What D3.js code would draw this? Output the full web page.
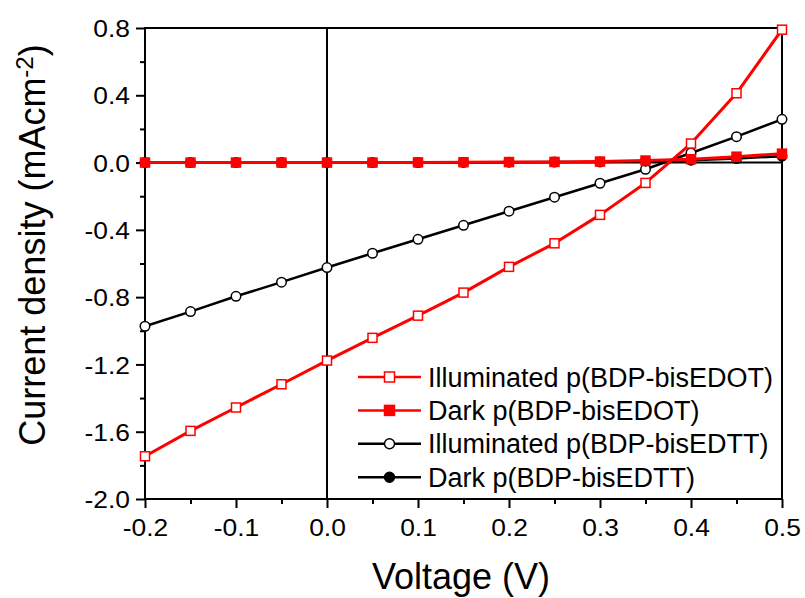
<!DOCTYPE html>
<html>
<head>
<meta charset="utf-8">
<script src="https://cdn.jsdelivr.net/npm/d3@7"></script>
<style>
  html, body { margin: 0; padding: 0; background: #fff; }
  svg { display: block; }
  text { font-family: "Liberation Sans", Arial, sans-serif; fill: #000; }
</style>
</head>
<body>
<svg id="chart" width="805" height="598"></svg>
<script>
// ---- data ----
const voltage = [-0.2, -0.15, -0.1, -0.05, 0.0, 0.05, 0.1, 0.15, 0.2, 0.25, 0.3, 0.35, 0.4, 0.45, 0.5];
const illumEDOT = [-1.746, -1.595, -1.456, -1.318, -1.177, -1.042, -0.910, -0.773, -0.620, -0.480, -0.311, -0.121, 0.113, 0.412, 0.790];
const darkEDOT  = [0.000, 0.000, 0.000, 0.000, 0.000, 0.000, 0.001, 0.002, 0.003, 0.004, 0.006, 0.012, 0.020, 0.035, 0.053];
const illumEDTT = [-0.973, -0.886, -0.795, -0.711, -0.624, -0.539, -0.456, -0.373, -0.289, -0.206, -0.123, -0.040, 0.057, 0.154, 0.257];
const darkEDTT  = [0.000, 0.000, 0.000, 0.000, 0.000, 0.000, 0.000, 0.001, 0.002, 0.003, 0.004, 0.008, 0.014, 0.024, 0.038];
const xTicks = [-0.2, -0.1, 0.0, 0.1, 0.2, 0.3, 0.4, 0.5];
const yTicks = [0.8, 0.4, 0.0, -0.4, -0.8, -1.2, -1.6, -2.0];
const seriesNames = ["Illuminated p(BDP-bisEDOT)", "Dark p(BDP-bisEDOT)", "Illuminated p(BDP-bisEDTT)", "Dark p(BDP-bisEDTT)"];

// ---- layout ----
const L = 145, R = 782, T = 28, B = 499;
const svg = d3.select("#chart");
const x = d3.scaleLinear().domain([-0.2, 0.5]).range([L, R]);
const y = d3.scaleLinear().domain([-2.0, 0.8]).range([B, T]);

const series = [
  {name: seriesNames[2], vals: illumEDTT, color: "#000", shape: "circle", fill: "#fff", lw: 2.5},
  {name: seriesNames[3], vals: darkEDTT,  color: "#000", shape: "circle", fill: "#000", lw: 2.5},
  {name: seriesNames[0], vals: illumEDOT, color: "#ff0000", shape: "square", fill: "#fff", lw: 3},
  {name: seriesNames[1], vals: darkEDOT,  color: "#ff0000", shape: "square", fill: "#ff0000", lw: 3}
];

// zero lines
svg.append("line").attr("x1", x(0)).attr("x2", x(0)).attr("y1", T).attr("y2", B)
  .attr("stroke", "#000").attr("stroke-width", 2);
svg.append("line").attr("x1", L).attr("x2", R).attr("y1", y(0)).attr("y2", y(0))
  .attr("stroke", "#000").attr("stroke-width", 2);

// axes
const fmt = d => (Math.abs(d) < 1e-9 ? 0 : d).toFixed(1);
const xAxis = svg.append("g").attr("transform", `translate(0,${B})`)
  .call(d3.axisBottom(x).tickValues(xTicks).tickFormat(fmt).tickSize(9).tickPadding(10));
const xMinor = svg.append("g").attr("transform", `translate(0,${B})`)
  .call(d3.axisBottom(x).tickValues([-0.15, -0.05, 0.05, 0.15, 0.25, 0.35, 0.45]).tickFormat("").tickSize(5));
const yAxis = svg.append("g").attr("transform", `translate(${L},0)`)
  .call(d3.axisLeft(y).tickValues(yTicks).tickFormat(fmt).tickSize(9).tickPadding(6));
const yMinor = svg.append("g").attr("transform", `translate(${L},0)`)
  .call(d3.axisLeft(y).tickValues([0.6, 0.2, -0.2, -0.6, -1.0, -1.4, -1.8]).tickFormat("").tickSize(5));
[xAxis, xMinor, yAxis, yMinor].forEach(g => {
  g.select(".domain").remove();
  g.selectAll("line").attr("stroke", "#000").attr("stroke-width", 2);
  g.selectAll("text").style("font-size", "24px").style("font-family", "'Liberation Sans', Arial, sans-serif");
});
xAxis.selectAll("text").attr("dy", "0.75em");
yAxis.selectAll("text").attr("dy", "0.36em");
// slight horizontal stretch of tick labels, as in the reference
[xAxis, yAxis].forEach(g => g.selectAll("text").each(function () {
  const w = this.getComputedTextLength();
  d3.select(this).attr("textLength", w * 1.1).attr("lengthAdjust", "spacingAndGlyphs");
}));

// frame
svg.append("rect").attr("x", L).attr("y", T).attr("width", R - L).attr("height", B - T)
  .attr("fill", "none").attr("stroke", "#000").attr("stroke-width", 2);

// series
const line = d3.line().x((d, i) => x(voltage[i])).y(d => y(d));
const plot = svg.append("g");
function marker(g, s, cx, cy, size) {
  if (s.shape === "square") {
    g.append("rect").attr("x", cx - size / 2).attr("y", cy - size / 2)
      .attr("width", size).attr("height", size)
      .attr("fill", s.fill).attr("stroke", s.color).attr("stroke-width", 1.5);
  } else {
    g.append("circle").attr("cx", cx).attr("cy", cy).attr("r", size / 2)
      .attr("fill", s.fill).attr("stroke", s.color).attr("stroke-width", 1.5);
  }
}
series.forEach(s => {
  const g = plot.append("g");
  g.append("path").datum(s.vals).attr("d", line).attr("fill", "none")
    .attr("stroke", s.color).attr("stroke-width", s.lw).attr("stroke-linejoin", "round");
  s.vals.forEach((v, i) => marker(g, s, x(voltage[i]), y(v), s.shape === "square" ? 9 : 9.5));
});

// legend
const legendOrder = [2, 3, 0, 1];
const lg = svg.append("g");
legendOrder.forEach((si, k) => {
  const s = series[si];
  const cy = 377 + k * 33.4;
  lg.append("line").attr("x1", 358).attr("x2", 421).attr("y1", cy).attr("y2", cy)
    .attr("stroke", s.color).attr("stroke-width", 2.5);
  marker(lg, s, 389.5, cy, 10);
  lg.append("text").attr("x", 428).attr("y", cy + 9.5).style("font-size", "27px").text(s.name);
});

// axis titles
svg.append("text").attr("x", 461).attr("y", 589).attr("text-anchor", "middle")
  .style("font-size", "36px").text("Voltage (V)");
const yt = svg.append("text").attr("transform", "translate(45,245) rotate(-90)")
  .attr("text-anchor", "middle").style("font-size", "36px");
yt.append("tspan").text("Current density (mAcm");
yt.append("tspan").attr("dy", "-0.5em").style("font-size", "24px").text("-2");
yt.append("tspan").attr("dy", "0.33em").text(")");
</script>
</body>
</html>
